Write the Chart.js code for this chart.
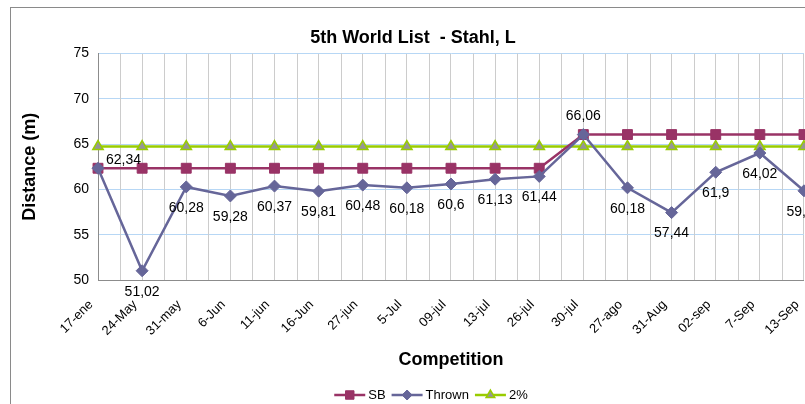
<!DOCTYPE html>
<html>
<head>
<meta charset="utf-8">
<script src="https://cdn.jsdelivr.net/npm/chart.js@4.4.1/dist/chart.umd.min.js"></script>
<style>
  html, body { margin: 0; padding: 0; background: #fff; overflow: hidden; }
  body { width: 805px; height: 404px; position: relative; }
  #frame { position: absolute; left: 10px; top: 7px; width: 900px; height: 500px; border: 1px solid #8a8a8a; }
  #chart { position: absolute; left: 0; top: 0; }
</style>
</head>
<body>
<div id="frame"></div>
<canvas id="chart" width="832" height="404"></canvas>
<script>
// competitions (x axis)
const competitions = ['17-ene', '24-May', '31-may', '6-Jun', '11-jun', '16-Jun', '27-jun', '5-Jul', '09-jul',
  '13-jul', '26-jul', '30-jul', '27-ago', '31-Aug', '02-sep', '7-Sep', '13-Sep'];

// season best so far
const seasonBest = [62.34, 62.34, 62.34, 62.34, 62.34, 62.34, 62.34, 62.34, 62.34, 62.34, 62.34,
  66.06, 66.06, 66.06, 66.06, 66.06, 66.06];

// thrown distance in each competition
const thrown = [62.34, 51.02, 60.28, 59.28, 60.37, 59.81, 60.48, 60.18, 60.6, 61.13, 61.44,
  66.06, 60.18, 57.44, 61.9, 64.02, 59.85];

// 2% below the best mark
const twoPercent = [64.74, 64.74, 64.74, 64.74, 64.74, 64.74, 64.74, 64.74, 64.74, 64.74, 64.74,
  64.74, 64.74, 64.74, 64.74, 64.74, 64.74];

// distance axis ticks
const distanceTicks = [50, 55, 60, 65, 70, 75];

const FONT = '"Liberation Sans", Arial, sans-serif';
Chart.defaults.font.family = FONT;

// where each value label sits (default below the point)
const labelSpots = { 0: 'right', 11: 'above' };

// extra vertical gridlines half way between competitions
const halfGrid = {
  id: 'halfGrid',
  beforeDatasetsDraw(chart) {
    const x = chart.scales.x, area = chart.chartArea, ctx = chart.ctx;
    ctx.save();
    ctx.strokeStyle = '#cccccc';
    ctx.lineWidth = 1;
    for (let i = 0; i < competitions.length - 1; i++) {
      const px = Math.round((x.getPixelForValue(i) + x.getPixelForValue(i + 1)) / 2) + 0.5;
      ctx.beginPath();
      ctx.moveTo(px, area.top);
      ctx.lineTo(px, area.bottom);
      ctx.stroke();
    }
    ctx.restore();
  }
};

// values of the Thrown series
const valueLabels = {
  id: 'valueLabels',
  afterDatasetsDraw(chart) {
    const ctx = chart.ctx;
    const idx = chart.data.datasets.findIndex(d => d.label === 'Thrown');
    const meta = chart.getDatasetMeta(idx);
    ctx.save();
    ctx.font = '14px ' + FONT;
    ctx.fillStyle = '#000';
    ctx.textBaseline = 'middle';
    meta.data.forEach((pt, i) => {
      const text = String(thrown[i]).replace('.', ',');
      const where = labelSpots[i] || 'below';
      let x = pt.x, y = pt.y + 21, align = 'center';
      if (where === 'above') y = pt.y - 18;
      if (where === 'right') { x = pt.x + 8; y = pt.y - 8; align = 'left'; }
      ctx.textAlign = align;
      ctx.fillText(text, x, y);
    });
    ctx.restore();
  }
};

// legend with line + marker, like the spreadsheet one
const lineLegend = {
  id: 'lineLegend',
  afterDraw(chart) {
    const ctx = chart.ctx;
    const sets = chart.data.datasets;
    ctx.save();
    ctx.font = '13px ' + FONT;
    const lineLen = 31, gapText = 3, gapItem = 6;
    const widths = sets.map(d => lineLen + gapText + ctx.measureText(d.label).width);
    const total = widths.reduce((a, b) => a + b, 0) + gapItem * (sets.length - 1);
    const area = chart.chartArea;
    let x = (area.left + area.right) / 2 - 20 - total / 2;
    const y = chart.height - 9;
    sets.forEach((d, i) => {
      ctx.strokeStyle = d.borderColor;
      ctx.lineWidth = d.borderWidth;
      ctx.beginPath();
      ctx.moveTo(x, y);
      ctx.lineTo(x + lineLen, y);
      ctx.stroke();
      ctx.fillStyle = d.pointBackgroundColor;
      ctx.strokeStyle = d.pointBorderColor;
      ctx.lineWidth = d.pointBorderWidth;
      Chart.helpers.drawPoint(ctx, {
        pointStyle: d.pointStyle, radius: d.pointRadius - 1,
        borderWidth: d.pointBorderWidth, rotation: 0
      }, x + lineLen / 2, y);
      ctx.fillStyle = '#000';
      ctx.textAlign = 'left';
      ctx.textBaseline = 'middle';
      ctx.fillText(d.label, x + lineLen + gapText, y);
      x += widths[i] + gapItem;
    });
    ctx.restore();
  }
};

const ctx = document.getElementById('chart').getContext('2d');
new Chart(ctx, {
  type: 'line',
  data: {
    labels: competitions,
    datasets: [{
      label: 'SB',
      data: seasonBest,
      borderColor: '#993366',
      backgroundColor: '#993366',
      borderWidth: 2.5,
      pointStyle: 'rect',
      pointRadius: 7,
      pointBackgroundColor: '#993366',
      pointBorderColor: '#993366',
      pointBorderWidth: 1,
      order: 1,
      clip: false
    }, {
      label: 'Thrown',
      data: thrown,
      borderColor: '#666699',
      backgroundColor: '#666699',
      borderWidth: 2.5,
      pointStyle: 'rectRot',
      pointRadius: 6,
      pointBackgroundColor: '#666699',
      pointBorderColor: '#666699',
      pointBorderWidth: 1,
      order: 0,
      clip: false
    }, {
      label: '2%',
      data: twoPercent,
      borderColor: '#99cc00',
      backgroundColor: '#99cc00',
      borderWidth: 2.5,
      pointStyle: 'triangle',
      pointRadius: 6,
      pointBackgroundColor: '#969696',
      pointBorderColor: '#99cc00',
      pointBorderWidth: 1.5,
      order: 2,
      clip: false
    }]
  },
  options: {
    responsive: false,
    animation: false,
    layout: { padding: { top: 0, right: 6, bottom: 0, left: 0 } },
    plugins: {
      legend: { display: false },
      tooltip: { enabled: false },
      title: {
        display: true,
        text: '5th World List  - Stahl, L',
        color: '#000',
        font: { size: 18, weight: 'bold' },
        padding: { top: 27, bottom: 5 }
      }
    },
    elements: { line: { tension: 0 } },
    scales: {
      x: {
        offset: false,
        grid: { color: '#cccccc', drawTicks: false },
        border: { color: '#8c8c8c' },
        ticks: {
          color: '#000', font: { size: 13 },
          minRotation: 45, maxRotation: 45, autoSkip: false,
          padding: 17, labelOffset: -7
        },
        title: {
          display: true, text: 'Competition', color: '#000',
          font: { size: 18, weight: 'bold' },
          padding: { top: 0, bottom: 33 }
        },
        afterFit(scale) { scale.height = 124; }
      },
      y: {
        min: distanceTicks[0],
        max: distanceTicks[distanceTicks.length - 1],
        grid: { color: '#b7d7f5', drawTicks: false },
        border: { color: '#8c8c8c' },
        ticks: { stepSize: 5, color: '#000', font: { size: 14 }, padding: 9 },
        title: {
          display: true, text: 'Distance (m)', color: '#000',
          font: { size: 18, weight: 'bold' },
          padding: { top: 19, bottom: 0 }
        },
        afterFit(scale) { scale.width = 98; }
      }
    }
  },
  plugins: [halfGrid, valueLabels, lineLegend]
});
</script>
</body>
</html>
